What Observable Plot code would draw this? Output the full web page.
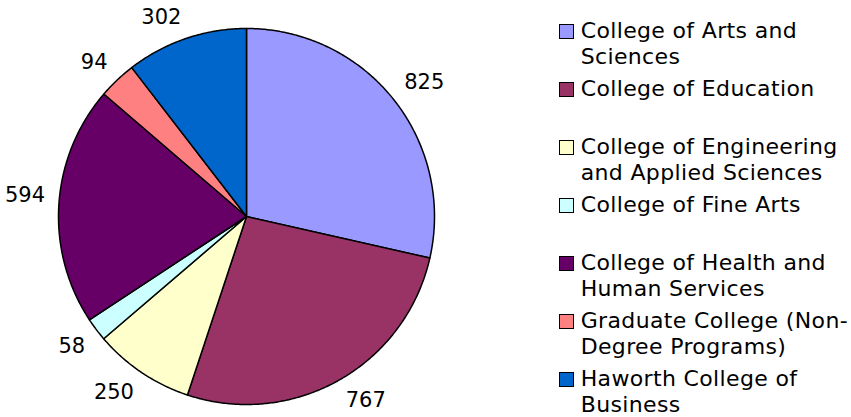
<!DOCTYPE html>
<html>
<head>
<meta charset="utf-8">
<script src="https://cdn.jsdelivr.net/npm/d3@7"></script>
<script src="https://cdn.jsdelivr.net/npm/@observablehq/plot@0.6"></script>
<style>
  html, body { margin: 0; padding: 0; background: #fff; }
  #wrap { position: relative; width: 851px; height: 417px; overflow: hidden; }
  #wrap svg { position: absolute; left: 0; top: 0; }
  #legend { position: absolute; left: 559px; top: 18px; width: 300px; font-family: "DejaVu Sans", Verdana, sans-serif; font-size: 22px; line-height: 25.7px; letter-spacing: 0.35px; color: #000; }
  .item { position: relative; height: 58.07px; padding-left: 21.7px; white-space: pre; }
  .sw { position: absolute; left: 0; top: 6px; width: 13px; height: 13px; border: 1px solid #000; }
</style>
</head>
<body>
<div id="wrap"><div id="legend"></div></div>
<script>
const categories = [
  "College of Arts and Sciences",
  "College of Education",
  "College of Engineering and Applied Sciences",
  "College of Fine Arts",
  "College of Health and Human Services",
  "Graduate College (Non-Degree Programs)",
  "Haworth College of Business"
];
const values = [825, 767, 250, 58, 594, 94, 302];
const colors = ["#9999FF", "#993366", "#FFFFCC", "#CCFFFF", "#660066", "#FF8080", "#0066CC"];
const legendLabels = [
  "College of Arts and\nSciences",
  "College of Education",
  "College of Engineering\nand Applied Sciences",
  "College of Fine Arts",
  "College of Health and\nHuman Services",
  "Graduate College (Non-\nDegree Programs)",
  "Haworth College of\nBusiness"
];

const W = 851, H = 417;
const mL = 58, mR = 417, mT = 28, mB = 13;
const R = (W - mL - mR) / 2; // radius in px

const arcs = d3.pie().sort(null).value(d => d)(values);

// slice outlines in unit-circle coordinates (angle clockwise from 12 o'clock)
const pts = [];
arcs.forEach((a, i) => {
  const cat = categories[i];
  pts.push({cat, x: 0, y: 0});
  const n = Math.max(2, Math.ceil((a.endAngle - a.startAngle) / (Math.PI / 360)));
  for (let k = 0; k <= n; ++k) {
    const t = a.startAngle + (a.endAngle - a.startAngle) * k / n;
    pts.push({cat, x: Math.sin(t), y: Math.cos(t)});
  }
});

// data labels placed outside end
const gap = 14, digitW = 13.3, capH = 16;
const labels = arcs.map((a, i) => {
  const m = (a.startAngle + a.endAngle) / 2;
  const s = Math.sin(m), c = Math.cos(m);
  const w = String(values[i]).length * digitW;
  const px = (R + gap) * s + Math.sign(s) * w / 2;
  const py = (R + gap) * c + Math.sign(c) * capH / 2;
  return {x: px / R, y: py / R, text: String(values[i])};
});

const chart = Plot.plot({
  width: W,
  height: H,
  marginLeft: mL,
  marginRight: mR,
  marginTop: mT,
  marginBottom: mB,
  x: {domain: [-1, 1], axis: null},
  y: {domain: [-1, 1], axis: null},
  color: {type: "ordinal", domain: categories, range: colors},
  style: {fontFamily: "'DejaVu Sans', Verdana, sans-serif", background: "#fff"},
  marks: [
    Plot.line(pts, {x: "x", y: "y", z: "cat", fill: "cat", stroke: "#000", strokeWidth: 1.5, curve: "linear-closed", strokeLinejoin: "round"}),
    Plot.text(labels, {x: "x", y: "y", text: "text", fontSize: 21, fill: "#000", textAnchor: "middle", lineAnchor: "middle", style: "letter-spacing:0.4px"})
  ]
});
document.getElementById("wrap").prepend(chart);

const colorScale = chart.scale("color");
const legend = document.getElementById("legend");
categories.forEach((cat, i) => {
  const item = document.createElement("div");
  item.className = "item";
  const sw = document.createElement("span");
  sw.className = "sw";
  sw.style.background = colorScale.apply(cat);
  item.appendChild(sw);
  item.appendChild(document.createTextNode(legendLabels[i]));
  legend.appendChild(item);
});
</script>
</body>
</html>
